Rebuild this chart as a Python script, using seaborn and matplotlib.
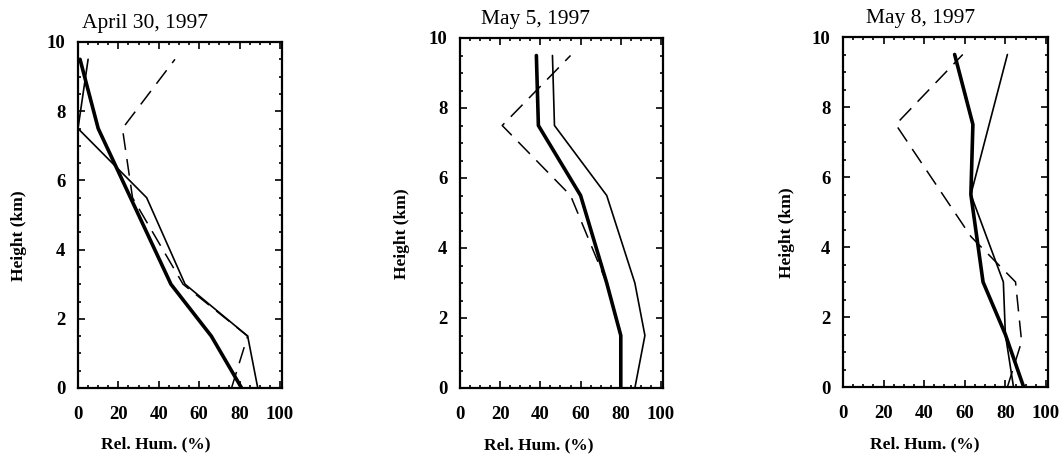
import matplotlib
matplotlib.use("Agg")
import matplotlib.pyplot as plt
from matplotlib.ticker import MultipleLocator
import seaborn as sns
import pandas as pd

sns.set_theme(style="ticks")
plt.rcParams["font.family"] = ["Liberation Serif", "DejaVu Serif"]
plt.rcParams["text.color"] = "black"
plt.rcParams["axes.labelcolor"] = "black"
plt.rcParams["xtick.color"] = "black"
plt.rcParams["ytick.color"] = "black"

titles = ["April 30, 1997", "May 5, 1997", "May 8, 1997"]
levels = [0.0, 1.5, 3.0, 5.5, 7.5, 9.5]

# Panel 1
p1_thick = [81, 66, 46, 26, 10, 1]
p1_thin = [89, 84, 53, 34, 0, 5]
p1_dash = [76, 84, 52, 27, 22, 48]
p1_dash_h = [0.0, 1.5, 3.0, 5.5, 7.5, 9.5]
# Panel 2
p2_thick = [80, 80, 73, 60, 39, 38]
p2_thin = [87, 92, 87, 73, 47, 46]
p2_dash = [80, 80, 73, 55, 21, 55]
p2_dash_h = [0.0, 1.5, 3.0, 5.5, 7.5, 9.5]
# Panel 3
p3_thick = [89, 80, 69, 63, 64, 55]
p3_thin = [84, 80, 79, 63, 72, 81]
p3_dash = [81, 88, 85, 63, 26, 59]
p3_dash_h = [0.0, 1.3, 3.0, 4.3, 7.5, 9.5]

panels = [
    (p1_thick, p1_thin, p1_dash, p1_dash_h),
    (p2_thick, p2_thin, p2_dash, p2_dash_h),
    (p3_thick, p3_thin, p3_dash, p3_dash_h),
]

W, H = 1063, 459
fig = plt.figure(figsize=(W / 100, H / 100), dpi=100)
boxes = [(78, 42, 282, 388), (460, 38, 663, 388), (843, 37, 1048, 387)]
title_x = [0.33, 0.37, 0.38]
ylab_x = [-0.25, -0.245, -0.235]
xlab_x = [0.38, 0.39, 0.40]

for i, (thick, thin, dash, dash_h) in enumerate(panels):
    l, t, r, b = boxes[i]
    ax = fig.add_axes([l / W, 1 - b / H, (r - l) / W, (b - t) / H])
    df_thick = pd.DataFrame({"rh": thick, "h": levels})
    df_thin = pd.DataFrame({"rh": thin, "h": levels})
    df_dash = pd.DataFrame({"rh": dash, "h": dash_h})
    sns.lineplot(data=df_thin, x="rh", y="h", ax=ax, color="black", lw=1.2,
                 sort=False, estimator=None, orient="y")
    sns.lineplot(data=df_dash, x="rh", y="h", ax=ax, color="black", lw=1.1,
                 sort=False, estimator=None, orient="y", dashes=False,
                 linestyle=(0, (11, 6)))
    sns.lineplot(data=df_thick, x="rh", y="h", ax=ax, color="black", lw=2.6,
                 sort=False, estimator=None, orient="y")
    ax.set_xlim(0, 101)
    ax.set_ylim(0, 10)
    ax.xaxis.set_major_locator(MultipleLocator(20))
    ax.xaxis.set_minor_locator(MultipleLocator(5))
    ax.yaxis.set_major_locator(MultipleLocator(2))
    ax.yaxis.set_minor_locator(MultipleLocator(0.5))
    ax.tick_params(which="both", direction="in", top=True, right=True,
                   color="black", labelcolor="black", width=1.2)
    ax.tick_params(which="major", length=5)
    ax.tick_params(which="minor", length=2.5)
    ax.tick_params(axis="x", which="major", pad=13, labelsize=13.5)
    ax.tick_params(axis="y", which="major", pad=9, labelsize=13.5)
    for lab in ax.get_xticklabels() + ax.get_yticklabels():
        lab.set_fontweight("bold")
    for sp in ax.spines.values():
        sp.set_linewidth(1.6)
        sp.set_color("black")
    ax.set_xlabel("Rel. Hum. (%)", fontsize=12.5, fontweight="bold", color="black")
    ax.set_ylabel("Height (km)", fontsize=12.5, fontweight="bold", color="black")
    ax.xaxis.set_label_coords(xlab_x[i], -0.14)
    ax.yaxis.set_label_coords(ylab_x[i], 0.44)
    ax.set_title(titles[i], fontsize=15.5, x=title_x[i], pad=10, color="black")
    ax.grid(False)

fig.savefig("out.png", dpi=100, facecolor="white")
